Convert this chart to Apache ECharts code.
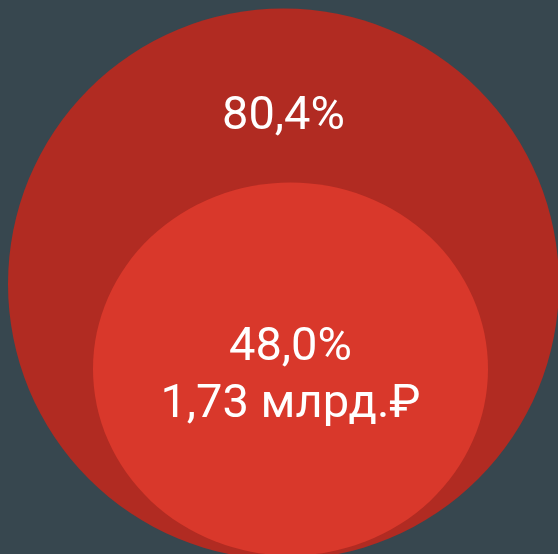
<!DOCTYPE html>
<html><head><meta charset="utf-8">
<script src="https://cdn.jsdelivr.net/npm/echarts@6/dist/echarts.min.js"></script>
<style>html,body{margin:0;padding:0;background:#37474f;overflow:hidden}#c{width:558px;height:554px}</style>
</head><body><div id="c"></div>
<script>
// Data
const shares = [80.4, 48.0];
const shareLabels = ['80,4%', '48,0%'];
const amountLabels = ['', '1,73 млрд.₽'];

// Layout (pixel space of a hidden grid)
const layout = [
  { pos: [283.5, 284], size: [551, 551], color: '#b12b22', labelOffset: [0, -167] },
  { pos: [290.5, 369], size: [395, 373], color: '#d9382b', labelOffset: [0, 8] }
];

const seriesData = shares.map((v, i) => ({
  value: [layout[i].pos[0], layout[i].pos[1], v],
  symbolSize: layout[i].size,
  itemStyle: { color: layout[i].color, opacity: 1 },
  label: {
    show: true,
    position: 'inside',
    offset: layout[i].labelOffset,
    color: '#ffffff',
    fontFamily: 'Roboto',
    fontSize: 47,
    lineHeight: 57,
    formatter: () => amountLabels[i] ? shareLabels[i] + '\n' + amountLabels[i] : shareLabels[i]
  }
}));

const chart = echarts.init(document.getElementById('c'), null, { renderer: 'canvas' });
chart.setOption({
  backgroundColor: '#37474f',
  animation: false,
  grid: { left: 0, right: 0, top: 0, bottom: 0 },
  xAxis: { type: 'value', min: 0, max: 558, show: false },
  yAxis: { type: 'value', min: 0, max: 554, inverse: true, show: false },
  series: [{
    type: 'scatter',
    silent: true,
    clip: false,
    symbol: 'circle',
    data: seriesData
  }]
});
</script>
</body></html>
